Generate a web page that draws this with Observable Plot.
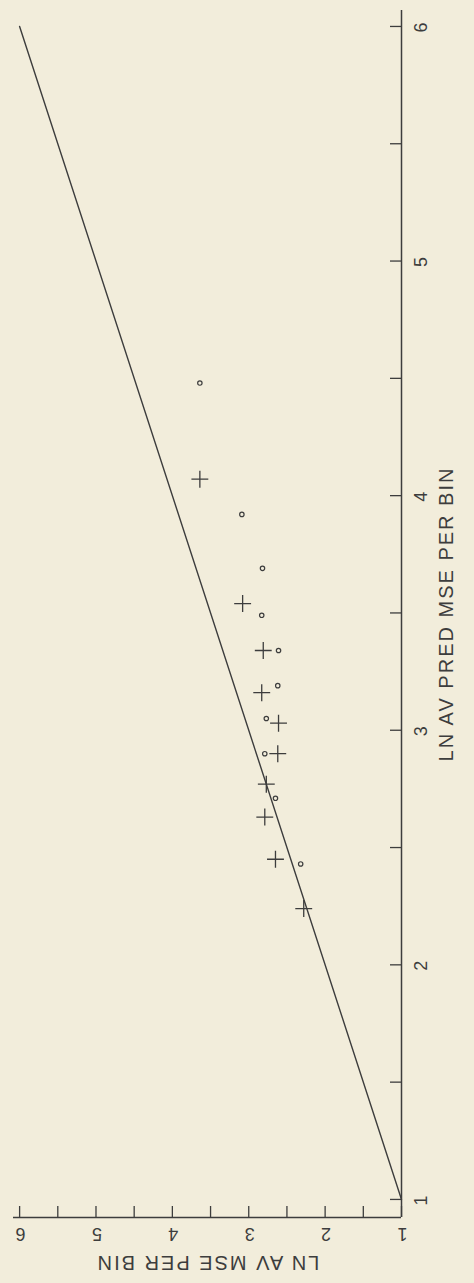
<!DOCTYPE html>
<html>
<head>
<meta charset="utf-8">
<script src="https://cdn.jsdelivr.net/npm/d3@7"></script>
<script src="https://cdn.jsdelivr.net/npm/@observablehq/plot@0.6"></script>
<style>
  html, body { margin: 0; padding: 0; background: #f2eddb; }
  #chart { width: 474px; height: 1283px; overflow: hidden; }
  #chart svg text { letter-spacing: 2px; }
</style>
</head>
<body>
<div id="chart"></div>
<script>
// ---- Data (chart is printed rotated 90° on the page) ----
const predTitle = "LN AV PRED MSE PER BIN";   // horizontal axis of the original plot (vertical here)
const mseTitle = "LN AV MSE PER BIN";         // vertical axis of the original plot (horizontal here)

const predDomain = [0.923, 6.068];
const mseDomain = [6.08, 1];

const predTicks = [1, 1.5, 2, 2.5, 3, 3.5, 4, 4.5, 5, 5.5, 6];
const mseTicks = [1, 1.5, 2, 2.5, 3, 3.5, 4, 4.5, 5, 5.5, 6];
const predTickLabels = [1, 2, 3, 4, 5, 6];
const mseTickLabels = [1, 2, 3, 4, 5, 6];

// "+" series
const plusPred = [3.34, 3.16, 3.03, 2.90, 2.77, 2.63, 2.45, 2.24, 3.54, 4.07];
const plusMse  = [2.81, 2.83, 2.61, 2.62, 2.77, 2.79, 2.65, 2.28, 3.08, 3.64];

// "o" series
const circlePred = [3.34, 3.19, 3.05, 2.90, 2.71, 2.43, 3.49, 3.69, 3.92, 4.48];
const circleMse  = [2.61, 2.62, 2.77, 2.79, 2.65, 2.32, 2.83, 2.82, 3.09, 3.64];

// reference line y = x
const refLine = [1, 6];

// ---- Build ----
const plusRows = plusPred.map((p, i) => ({pred: p, mse: plusMse[i]}));
const circleRows = circlePred.map((p, i) => ({pred: p, mse: circleMse[i]}));

const W = 474, H = 1283;
const mL = 13, mR = 73, mT = 10, mB = 66;
const frameW = W - mL - mR, frameH = H - mT - mB;
const tickLen = 11;
const ink = "#3d3d3d";
const font = "'Liberation Sans', Arial, sans-serif";
const txt = { fill: ink, fontFamily: font, textAnchor: "middle", lineAnchor: "middle" };

const chart = Plot.plot({
  width: W,
  height: H,
  marginLeft: mL,
  marginRight: mR,
  marginTop: mT,
  marginBottom: mB,
  style: { background: "transparent", fontFamily: font, color: ink, overflow: "visible" },
  x: { domain: mseDomain, axis: null },
  y: { domain: predDomain, axis: null },
  marks: [
    Plot.ruleY([predDomain[0]], { stroke: ink, strokeWidth: 1.5 }),
    Plot.ruleX([mseDomain[1]], { stroke: ink, strokeWidth: 1.5 }),
    Plot.tickX(mseTicks, { x: d => d, stroke: ink, strokeWidth: 1.3, insetTop: frameH - tickLen }),
    Plot.tickY(predTicks, { y: d => d, stroke: ink, strokeWidth: 1.3, insetLeft: frameW - tickLen }),
    Plot.text(mseTickLabels, { x: d => d, text: d => String(d), frameAnchor: "bottom", dy: 16, rotate: 180, fontSize: 18, ...txt }),
    Plot.text(predTickLabels, { y: d => d, text: d => String(d), frameAnchor: "right", dx: 20, rotate: -90, fontSize: 18, ...txt }),
    Plot.text([mseTitle], { text: d => d, frameAnchor: "bottom", dy: 45, rotate: 180, fontSize: 20, ...txt }),
    Plot.text([predTitle], { text: d => d, frameAnchor: "right", dx: 45, rotate: -90, fontSize: 20, ...txt }),
    Plot.line(refLine, { x: d => d, y: d => d, stroke: ink, strokeWidth: 1.4 }),
    Plot.dot(plusRows, { x: "mse", y: "pred", symbol: "plus", r: 5.5, stroke: ink, strokeWidth: 1.3 }),
    Plot.dot(circleRows, { x: "mse", y: "pred", symbol: "circle", r: 2.2, stroke: ink, strokeWidth: 1.2, fill: "none" })
  ]
});

document.getElementById("chart").appendChild(chart);
</script>
</body>
</html>
